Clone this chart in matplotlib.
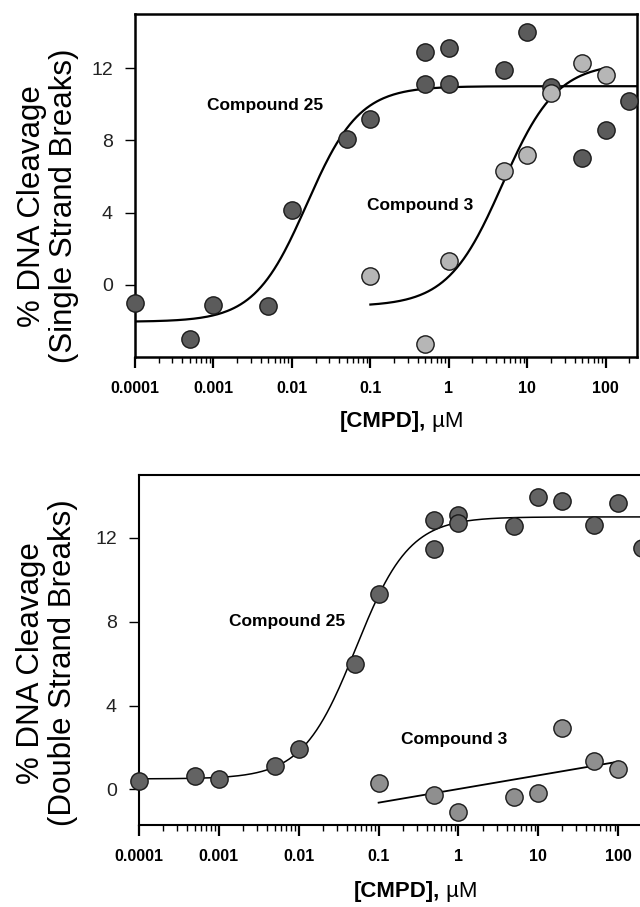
import numpy as np
import matplotlib
matplotlib.use("Agg")
import matplotlib.pyplot as plt
from matplotlib.ticker import FixedLocator, FixedFormatter, LogLocator, NullFormatter

plt.rcParams['font.family'] = ['Liberation Sans', 'DejaVu Sans']

# ---- data ----
tick_vals = [0.0001, 0.001, 0.01, 0.1, 1, 10, 100]
tick_labels = ['0.0001', '0.001', '0.01', '0.1', '1', '10', '100']
y_ticks = [0, 4, 8, 12]

# single strand breaks
ss_c25_x = [0.0001, 0.0005, 0.001, 0.005, 0.01, 0.05, 0.1, 0.5, 0.5, 1, 1, 5, 10, 20, 50, 100, 200]
ss_c25_y = [-1.0, -3.0, -1.1, -1.2, 4.15, 8.05, 9.2, 12.9, 11.1, 13.1, 11.1, 11.9, 14.0, 10.95, 7.0, 8.6, 10.2]
ss_c3_x = [0.1, 0.5, 1, 5, 10, 20, 50, 100]
ss_c3_y = [0.5, -3.3, 1.3, 6.3, 7.2, 10.6, 12.3, 11.6]
# 4PL fits: bottom, top, EC50, hill
ss_c25_fit = [-2.05, 11.0, 0.0155, 1.3]
ss_c3_fit = [-1.2, 12.3, 4.8, 1.25]

# double strand breaks
ds_c25_x = [0.0001, 0.0005, 0.001, 0.005, 0.01, 0.05, 0.1, 0.5, 0.5, 1, 1, 5, 10, 20, 50, 100, 200]
ds_c25_y = [0.4, 0.64, 0.51, 1.11, 1.94, 6.0, 9.3, 12.85, 11.45, 13.1, 12.7, 12.55, 13.95, 13.75, 12.6, 13.65, 11.5]
ds_c3_x = [0.1, 0.5, 1, 5, 10, 20, 50, 100]
ds_c3_y = [0.32, -0.29, -1.08, -0.37, -0.16, 2.94, 1.35, 0.95]
ds_c25_fit = [0.5, 13.0, 0.052, 1.3]


def four_pl(x, p):
    bottom, top, ec50, hill = p
    return bottom + (top - bottom) / (1 + (ec50 / x) ** hill)


def style_axes(ax, ylim, spine_w):
    ax.set_xscale('log')
    ax.set_xlim(1e-4, 250)
    ax.set_ylim(*ylim)
    ax.xaxis.set_major_locator(FixedLocator(tick_vals))
    ax.xaxis.set_major_formatter(FixedFormatter(tick_labels))
    ax.xaxis.set_minor_locator(LogLocator(base=10, subs=np.arange(2, 10)))
    ax.xaxis.set_minor_formatter(NullFormatter())
    ax.set_yticks(y_ticks)
    ax.tick_params(axis='x', which='major', direction='out', length=8, width=1.6,
                   pad=9, labelsize=11.5)
    ax.tick_params(axis='x', which='minor', direction='out', length=4, width=1)
    ax.tick_params(axis='y', direction='out', length=7, width=1, pad=9,
                   labelsize=14, labelcolor='#222222')
    for lab in ax.get_xticklabels():
        lab.set_fontweight('bold')
    for sp in ax.spines.values():
        sp.set_linewidth(spine_w)


fig = plt.figure(figsize=(6.4, 9.07), dpi=100)

# ---------------- top panel ----------------
ax1 = fig.add_axes([135 / 640, 1 - 357 / 907, 502 / 640, 343 / 907])
style_axes(ax1, (-4, 15), 1.8)
xc = np.logspace(-4, np.log10(250), 300)
ax1.plot(xc, four_pl(xc, ss_c25_fit), color='black', lw=1.6, zorder=2)
xc3 = np.logspace(-1, 2, 200)
ax1.plot(xc3, four_pl(xc3, ss_c3_fit), color='black', lw=1.6, zorder=2)
ax1.scatter(ss_c25_x, ss_c25_y, s=155, facecolor='#5b5b5b', edgecolor='#1a1a1a',
            linewidth=1, zorder=3, clip_on=False)
ax1.scatter(ss_c3_x, ss_c3_y, s=155, facecolor='#b6b6b6', edgecolor='#1a1a1a',
            linewidth=1, zorder=4, clip_on=False)
ax1.text(0.0045, 9.95, 'Compound 25', ha='center', va='center', fontsize=12.5,
         fontweight='bold')
ax1.text(0.43, 4.4, 'Compound 3', ha='center', va='center', fontsize=12.5,
         fontweight='bold')

# ---------------- bottom panel ----------------
ax2 = fig.add_axes([139 / 640, 1 - 825 / 907, 511 / 640, 350 / 907])
style_axes(ax2, (-1.7, 15), 1.5)
ax2.plot(xc, four_pl(xc, ds_c25_fit), color='black', lw=1.1, zorder=2)
slope, icpt = np.polyfit(np.log10(ds_c3_x), ds_c3_y, 1)
xl = np.array([0.1, 100])
ax2.plot(xl, icpt + slope * np.log10(xl), color='black', lw=1.3, zorder=2)
ax2.scatter(ds_c25_x, ds_c25_y, s=155, facecolor='#636363', edgecolor='#1a1a1a',
            linewidth=1, zorder=3, clip_on=False)
ax2.scatter(ds_c3_x, ds_c3_y, s=155, facecolor='#8f8f8f', edgecolor='#1a1a1a',
            linewidth=1, zorder=4, clip_on=False)
ax2.text(0.0071, 8.0, 'Compound 25', ha='center', va='center', fontsize=12.5,
         fontweight='bold')
ax2.text(0.89, 2.4, 'Compound 3', ha='center', va='center', fontsize=12.5,
         fontweight='bold')

# ---------------- axis titles ----------------
fig.text(48 / 640, 1 - 206 / 907, '% DNA Cleavage\n(Single Strand Breaks)',
         rotation=90, ha='center', va='center', fontsize=22.5, linespacing=1.05)
fig.text(47 / 640, 1 - 663 / 907, '% DNA Cleavage\n(Double Strand Breaks)',
         rotation=90, ha='center', va='center', fontsize=22.5, linespacing=1.05)

for split, ypix in [(426, 421), (440, 891)]:
    fig.text(split / 640, 1 - ypix / 907, '[CMPD],', ha='right', va='center',
             fontsize=16, fontweight='bold')
    fig.text(split / 640, 1 - ypix / 907, ' \u00b5M', ha='left', va='center',
             fontsize=16)

fig.savefig('out.png', dpi=100)
